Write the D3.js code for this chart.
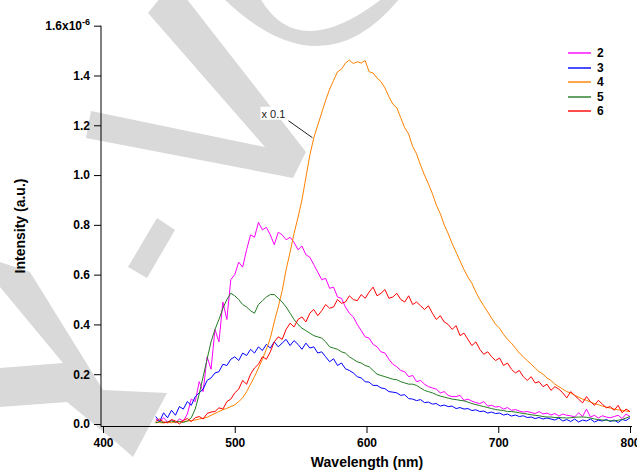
<!DOCTYPE html>
<html>
<head>
<meta charset="utf-8">
<script src="https://cdn.jsdelivr.net/npm/d3@7"></script>
<style>
  body { margin: 0; background: #fff; }
  svg { display: block; font-family: "Liberation Sans", Arial, sans-serif; }
</style>
</head>
<body>
<svg id="chart" width="637" height="472"></svg>
<script>
/* Emission spectra of 2-6 (intensity in units of 1e-6, curve 4 scaled x 0.1) */

const wavelength = [
  440,443,446,449,452,455,458,461,464,467,470,473,476,479,482,485,488,491,494,497,
  500,503,506,509,512,515,518,521,524,527,530,533,536,539,542,545,548,551,554,557,
  560,563,566,569,572,575,578,581,584,587,590,593,596,599,602,605,608,611,614,617,
  620,623,626,629,632,635,638,641,644,647,650,653,656,659,662,665,668,671,674,677,
  680,683,686,689,692,695,698,701,704,707,710,713,716,719,722,725,728,731,734,737,
  740,743,746,749,752,755,758,761,764,767,770,773,776,779,782,785,788,791,794,797,800
];

const s2 = [
  0.02,0.01,0.025,0.008,0.015,0.005,0.02,0.012,0.04,0.1,0.09,0.17,0.13,0.27,0.22,0.38,0.33,0.49,0.42,0.58,
  0.6,0.65,0.63,0.7,0.76,0.75,0.81,0.78,0.79,0.76,0.72,0.77,0.76,0.74,0.75,0.73,0.7,0.715,0.68,0.67,
  0.64,0.61,0.58,0.585,0.545,0.55,0.51,0.505,0.47,0.445,0.43,0.4,0.375,0.35,0.345,0.32,0.31,0.29,0.285,0.26,
  0.24,0.23,0.215,0.21,0.19,0.195,0.17,0.175,0.16,0.15,0.145,0.14,0.125,0.13,0.115,0.11,0.11,0.115,0.095,0.1,
  0.092,0.086,0.082,0.09,0.072,0.075,0.068,0.07,0.06,0.066,0.055,0.058,0.052,0.048,0.05,0.046,0.042,0.05,0.04,0.044,
  0.036,0.042,0.032,0.04,0.035,0.033,0.028,0.045,0.03,0.06,0.028,0.035,0.024,0.033,0.028,0.025,0.03,0.035,0.022,0.04,0.03
];

const s3 = [
  0.03,0.01,0.045,0.025,0.055,0.035,0.07,0.06,0.09,0.075,0.11,0.125,0.14,0.175,0.185,0.205,0.21,0.24,0.235,0.26,
  0.27,0.255,0.285,0.275,0.3,0.285,0.31,0.295,0.32,0.305,0.33,0.31,0.325,0.34,0.315,0.335,0.32,0.3,0.325,0.305,
  0.31,0.285,0.29,0.27,0.25,0.262,0.235,0.245,0.222,0.215,0.205,0.19,0.185,0.17,0.168,0.155,0.155,0.145,0.142,0.13,
  0.128,0.125,0.115,0.118,0.102,0.1,0.094,0.098,0.086,0.088,0.08,0.082,0.072,0.076,0.07,0.072,0.062,0.066,0.06,0.062,
  0.054,0.057,0.05,0.052,0.044,0.048,0.042,0.044,0.036,0.04,0.032,0.036,0.03,0.033,0.026,0.028,0.022,0.026,0.02,0.024,
  0.02,0.016,0.024,0.012,0.018,0.01,0.02,0.008,0.016,0.012,0.02,0.008,0.015,0.012,0.018,0.01,0.016,0.006,0.018,0.014,0.025
];

const s4 = [
  0.005,0.006,0.004,0.007,0.005,0.008,0.008,0.01,0.012,0.013,0.016,0.02,0.023,0.027,0.035,0.042,0.05,0.057,0.063,0.07,
  0.077,0.09,0.105,0.13,0.16,0.19,0.225,0.26,0.3,0.345,0.41,0.47,0.535,0.62,0.69,0.765,0.83,0.9,0.99,1.08,
  1.15,1.2,1.25,1.3,1.345,1.38,1.415,1.425,1.45,1.462,1.448,1.455,1.45,1.46,1.415,1.41,1.39,1.375,1.35,1.315,
  1.285,1.27,1.23,1.19,1.165,1.115,1.085,1.04,1.0,0.965,0.925,0.88,0.845,0.8,0.765,0.725,0.69,0.655,0.62,0.59,
  0.565,0.53,0.5,0.475,0.45,0.425,0.4,0.385,0.36,0.34,0.325,0.305,0.285,0.27,0.255,0.24,0.225,0.21,0.2,0.185,
  0.175,0.16,0.15,0.14,0.13,0.125,0.115,0.108,0.1,0.095,0.088,0.082,0.078,0.072,0.068,0.064,0.06,0.057,0.055,0.052,0.05
];

const s5 = [
  0.005,0.01,0.006,0.008,0.012,0.008,0.01,0.006,0.012,0.025,0.06,0.12,0.19,0.26,0.33,0.38,0.42,0.465,0.5,0.525,
  0.515,0.5,0.48,0.47,0.455,0.445,0.48,0.495,0.51,0.52,0.52,0.505,0.49,0.47,0.445,0.42,0.4,0.385,0.375,0.365,
  0.355,0.35,0.345,0.33,0.31,0.305,0.3,0.29,0.285,0.27,0.26,0.25,0.245,0.235,0.23,0.215,0.2,0.195,0.19,0.185,
  0.18,0.178,0.17,0.165,0.16,0.16,0.155,0.145,0.135,0.13,0.125,0.118,0.112,0.108,0.104,0.1,0.098,0.095,0.093,0.088,
  0.082,0.078,0.074,0.07,0.066,0.062,0.058,0.056,0.054,0.05,0.05,0.048,0.045,0.042,0.04,0.037,0.035,0.033,0.03,0.028,
  0.028,0.026,0.026,0.025,0.024,0.025,0.027,0.028,0.028,0.027,0.024,0.02,0.018,0.016,0.015,0.013,0.012,0.015,0.018,0.024,0.03
];

const s6 = [
  0.01,0.02,0.008,0.005,0.018,0.012,0.0,0.015,0.022,0.01,0.025,0.03,0.02,0.042,0.048,0.05,0.065,0.06,0.09,0.1,
  0.125,0.14,0.175,0.16,0.2,0.225,0.24,0.27,0.26,0.29,0.33,0.35,0.34,0.38,0.405,0.39,0.42,0.43,0.41,0.445,
  0.46,0.435,0.455,0.48,0.465,0.47,0.5,0.485,0.49,0.515,0.5,0.495,0.52,0.505,0.53,0.55,0.515,0.525,0.54,0.505,
  0.51,0.525,0.5,0.49,0.515,0.48,0.49,0.475,0.46,0.475,0.445,0.42,0.435,0.41,0.4,0.38,0.395,0.355,0.365,0.34,
  0.315,0.33,0.3,0.28,0.29,0.27,0.255,0.265,0.235,0.245,0.22,0.205,0.215,0.19,0.175,0.19,0.165,0.17,0.15,0.16,
  0.135,0.15,0.14,0.125,0.105,0.13,0.115,0.1,0.085,0.11,0.09,0.075,0.095,0.08,0.065,0.07,0.055,0.075,0.045,0.06,0.05
];

const seriesNames = ['2', '3', '4', '5', '6'];
const seriesValues = [s2, s3, s4, s5, s6];
const seriesColors = ['#ff00ff', '#0000ff', '#ff8000', '#237b23', '#ff0000'];

const xTicks = [400, 500, 600, 700, 800];
const yTicks = [0, 0.2, 0.4, 0.6, 0.8, 1.0, 1.2, 1.4, 1.6];

// where the "x 0.1" note points on curve 4
const noteAt = [559, 1.15];

// gray watermark behind the plot
const WATERMARK = [
  'M148,13 L160,-2 L186,-2 L306,152 L293,178 L86,138 L91,111 L265,147 Z',
  'M223,-2 Q322,94 400,-2 L383,-2 Q298,64 260,-2 Z',
  'M157,218 L175,230 L147,278 L128,267 Z',
  'M0,262 L30,272 L103,390 L167,393 L133,457 L117,443 L67,402 L0,407 L0,368 L63,363 L0,287 Z'
];

const svg = d3.select('#chart');

svg.append('g').attr('class', 'watermark')
  .selectAll('path')
  .data(WATERMARK)
  .join('path')
  .attr('d', d => d)
  .attr('fill', '#d9d9d9');

const x = d3.scaleLinear().domain([400, 800]).range([103, 630]);
const y = d3.scaleLinear().domain([0, 1.6]).range([424, 25.7]);

const axisX = 101, axisY = 426;

// axes
const gx = svg.append('g').attr('transform', `translate(0,${axisY})`)
  .call(d3.axisBottom(x).tickValues(xTicks).tickSize(7).tickSizeOuter(0).tickPadding(5).tickFormat(d3.format('d')));
gx.select('.domain').remove();

const gy = svg.append('g').attr('transform', `translate(${axisX},0)`)
  .call(d3.axisLeft(y).tickValues(yTicks).tickSize(7).tickSizeOuter(0).tickPadding(4).tickFormat(d3.format('.1f')));
gy.select('.domain').remove();

[gx, gy].forEach(g => {
  g.selectAll('.tick line').attr('stroke', '#000');
  g.selectAll('.tick text')
    .attr('fill', '#000')
    .attr('font-size', 12)
    .attr('font-weight', 'bold')
    .attr('font-family', '"Liberation Sans", Arial, sans-serif');
});

gy.selectAll('.tick text').filter(d => d === 1.6).each(function () {
  const t = d3.select(this);
  t.text('1.6x10');
  t.append('tspan').attr('dy', -5).attr('font-size', 9).text('-6');
});

svg.append('line')
  .attr('x1', axisX).attr('x2', axisX).attr('y1', y(1.6)).attr('y2', axisY + 0.5)
  .attr('stroke', '#000');
svg.append('line')
  .attr('x1', axisX).attr('x2', 632).attr('y1', axisY + 0.5).attr('y2', axisY + 0.5)
  .attr('stroke', '#000');

// axis titles
svg.append('text')
  .attr('x', 367).attr('y', 467)
  .attr('text-anchor', 'middle')
  .attr('font-size', 14).attr('font-weight', 'bold')
  .text('Wavelength (nm)');

svg.append('text')
  .attr('transform', 'translate(25,226) rotate(-90)')
  .attr('text-anchor', 'middle')
  .attr('font-size', 14).attr('font-weight', 'bold')
  .text('Intensity (a.u.)');

// spectra
const line = d3.line()
  .x((d, i) => x(wavelength[i]))
  .y(d => y(d));

svg.append('g').attr('class', 'spectra')
  .selectAll('path')
  .data(seriesValues)
  .join('path')
  .attr('d', d => line(d))
  .attr('fill', 'none')
  .attr('stroke', (d, i) => seriesColors[i])
  .attr('stroke-width', 1)
  .attr('stroke-linejoin', 'round');

// note on curve 4
const nx = x(noteAt[0]), ny = y(noteAt[1]);
svg.append('line')
  .attr('x1', nx - 24).attr('y1', ny - 17)
  .attr('x2', nx).attr('y2', ny)
  .attr('stroke', '#222').attr('stroke-width', 1);
svg.append('rect')
  .attr('x', nx - 52).attr('y', ny - 31)
  .attr('width', 29).attr('height', 13)
  .attr('fill', '#fff');
svg.append('text')
  .attr('x', nx - 51).attr('y', ny - 20)
  .attr('font-size', 11).attr('fill', '#222')
  .text('x 0.1');

// legend
const legend = svg.append('g').attr('class', 'legend')
  .selectAll('g')
  .data(seriesNames)
  .join('g')
  .attr('transform', (d, i) => `translate(568,${Math.round(53 + i * 14.5)})`);

legend.append('line')
  .attr('x1', 0).attr('x2', 23)
  .attr('stroke', (d, i) => seriesColors[i])
  .attr('stroke-opacity', 0.7)
  .attr('stroke-width', 2);

legend.append('text')
  .attr('x', 29).attr('dy', '0.35em')
  .attr('font-size', 12).attr('font-weight', 'bold')
  .text(d => d);
</script>
</body>
</html>
